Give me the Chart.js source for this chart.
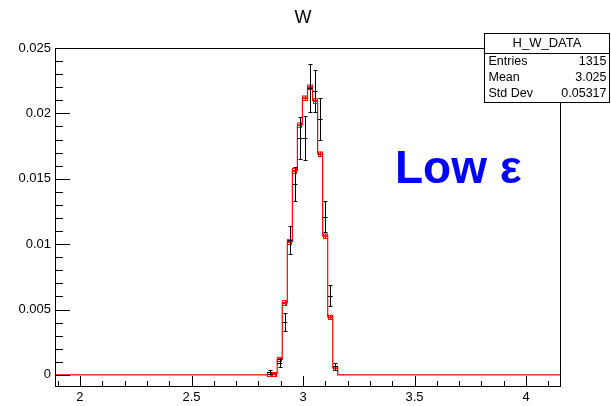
<!DOCTYPE html>
<html>
<head>
<meta charset="utf-8">
<script src="https://cdn.jsdelivr.net/npm/chart.js@4.4.1/dist/chart.umd.min.js"></script>
<style>
  html, body { margin: 0; padding: 0; background: #fff; }
</style>
</head>
<body>
<canvas id="histW" width="611" height="406"></canvas>
<script>
// histogram range and binning (100 bins)
const xMin = 1.888, xMax = 4.152;
const binWidth = 0.02264;

// only the non-empty bins around the peak
const binCenters = [2.8502, 2.8728, 2.8955, 2.9181, 2.9408, 2.9634, 2.9860, 3.0087, 3.0313, 3.0540, 3.0766, 3.0992, 3.1219, 3.1445];
const mcValues   = [0.00005, 0.0001, 0.00122, 0.00553, 0.01019, 0.01563, 0.01911, 0.02118, 0.02202, 0.02097, 0.0169, 0.01063, 0.00441, 0.00054];
const mcErrors   = [0.00004, 0.00005, 0.00012, 0.00015, 0.00015, 0.00015, 0.00015, 0.00015, 0.00015, 0.00015, 0.00015, 0.00015, 0.00015, 0.0001];
const dataValues = [0.0002, null, 0.00092, 0.00407, 0.01032, 0.0146, 0.0181, 0.01812, 0.02194, 0.02174, 0.01955, 0.0121, 0.00604, 0.00065];
const dataErrors = [0.00015, null, 0.0003, 0.0007, 0.0011, 0.0013, 0.0016, 0.0017, 0.0018, 0.0016, 0.0016, 0.0012, 0.0008, 0.00027];

const xMajorTicks = [2, 2.5, 3, 3.5, 4];
const xMinorTicks = [1.9, 2.1, 2.2, 2.3, 2.4, 2.6, 2.7, 2.8, 2.9, 3.1, 3.2, 3.3, 3.4, 3.6, 3.7, 3.8, 3.9, 4.1];
const yMajorTicks = [0, 0.005, 0.01, 0.015, 0.02, 0.025];
const yMinorTicks = [0.001, 0.002, 0.003, 0.004, 0.006, 0.007, 0.008, 0.009, 0.011, 0.012, 0.013, 0.014,
                     0.016, 0.017, 0.018, 0.019, 0.021, 0.022, 0.023, 0.024];

const histTitle = 'W';
const statsName = 'H_W_DATA';
const statsRows = [['Entries', '1315'], ['Mean', '3.025'], ['Std Dev', '0.05317']];
const overlayText = 'Low \u03B5';

// step outline of the MC histogram: each point is a bin's right edge
const mcStep = [{ x: xMin, y: 0 }, { x: binCenters[0] - binWidth / 2, y: 0 }];
binCenters.forEach((c, i) => mcStep.push({ x: c + binWidth / 2, y: mcValues[i] }));
mcStep.push({ x: xMax, y: 0 });

const dataPoints = binCenters
    .map((c, i) => ({ x: c, y: dataValues[i], err: dataErrors[i] }))
    .filter(p => p.y !== null);

const FONT = '"Liberation Sans", Arial, Helvetica, sans-serif';

const rootStyle = {
    id: 'rootStyle',
    afterDatasetsDraw(chart) {
        const ctx = chart.ctx;
        const xs = chart.scales.x, ys = chart.scales.y;
        ctx.save();
        // MC error boxes
        ctx.strokeStyle = '#ff0000';
        ctx.lineWidth = 1;
        binCenters.forEach((c, i) => {
            const x0 = Math.round(xs.getPixelForValue(c - binWidth / 2)) + 0.5;
            const x1 = Math.round(xs.getPixelForValue(c + binWidth / 2)) - 0.5;
            const xc = Math.round(xs.getPixelForValue(c)) + 0.5;
            const yc = Math.round(ys.getPixelForValue(mcValues[i])) + 0.5;
            const yt = Math.min(yc - 2, ys.getPixelForValue(mcValues[i] + mcErrors[i]));
            const yb = Math.max(yc + 2, ys.getPixelForValue(mcValues[i] - mcErrors[i]));
            ctx.strokeRect(x0, yt, x1 - x0, yb - yt);
            ctx.beginPath();
            ctx.moveTo(x0, yc); ctx.lineTo(x1, yc);
            ctx.moveTo(xc, yt); ctx.lineTo(xc, yb);
            ctx.stroke();
        });
        // data points with error bars
        ctx.strokeStyle = '#000';
        dataPoints.forEach(p => {
            const xc = Math.round(xs.getPixelForValue(p.x)) + 0.5;
            const x0 = xs.getPixelForValue(p.x - binWidth / 2);
            const x1 = xs.getPixelForValue(p.x + binWidth / 2);
            const yc = Math.round(ys.getPixelForValue(p.y)) + 0.5;
            const yt = Math.round(ys.getPixelForValue(p.y + p.err)) + 0.5;
            const yb = Math.round(ys.getPixelForValue(p.y - p.err)) + 0.5;
            ctx.beginPath();
            ctx.moveTo(x0, yc); ctx.lineTo(x1, yc);
            ctx.moveTo(xc, yt); ctx.lineTo(xc, yb);
            ctx.moveTo(xc - 2, yt); ctx.lineTo(xc + 2, yt);
            ctx.moveTo(xc - 2, yb); ctx.lineTo(xc + 2, yb);
            ctx.stroke();
        });
        ctx.restore();
    },
    afterDraw(chart) {
        const ctx = chart.ctx;
        const area = chart.chartArea;
        const xs = chart.scales.x, ys = chart.scales.y;
        ctx.save();
        ctx.strokeStyle = '#000';
        ctx.lineWidth = 1;
        // frame
        ctx.strokeRect(Math.round(area.left) + 0.5, Math.round(area.top) + 0.5,
            Math.round(area.right - area.left), Math.round(area.bottom - area.top));
        // inner ticks
        ctx.beginPath();
        const yTick = (v, len) => {
            const y = Math.round(ys.getPixelForValue(v)) + 0.5;
            ctx.moveTo(area.left, y); ctx.lineTo(area.left + len, y);
        };
        const xTick = (v, len) => {
            const x = Math.round(xs.getPixelForValue(v)) + 0.5;
            ctx.moveTo(x, area.bottom); ctx.lineTo(x, area.bottom - len);
        };
        yMajorTicks.forEach(v => yTick(v, 15));
        yMinorTicks.forEach(v => yTick(v, 8));
        xMajorTicks.forEach(v => xTick(v, 10));
        xMinorTicks.forEach(v => xTick(v, 5));
        ctx.stroke();

        // title
        ctx.fillStyle = '#000';
        ctx.font = '18px ' + FONT;
        ctx.textAlign = 'center';
        ctx.textBaseline = 'middle';
        ctx.fillText(histTitle, 303, 18);

        // stats box
        const bx = 484.5, by = 33.5, bw = 125, bh = 69;
        ctx.fillStyle = '#fff';
        ctx.fillRect(bx, by, bw, bh);
        ctx.strokeRect(bx, by, bw, bh);
        ctx.beginPath();
        ctx.moveTo(bx, by + 20); ctx.lineTo(bx + bw, by + 20);
        ctx.stroke();
        ctx.fillStyle = '#000';
        ctx.font = '13px ' + FONT;
        ctx.textAlign = 'center';
        ctx.fillText(statsName, bx + bw / 2, by + 10);
        ctx.font = '12.5px ' + FONT;
        statsRows.forEach((r, i) => {
            const y = by + 28 + i * 16;
            ctx.textAlign = 'left';
            ctx.fillText(r[0], bx + 4, y);
            ctx.textAlign = 'right';
            ctx.fillText(r[1], bx + bw - 3, y);
        });

        // label
        ctx.fillStyle = '#0000ff';
        ctx.font = 'bold 46px ' + FONT;
        ctx.textAlign = 'left';
        ctx.textBaseline = 'alphabetic';
        ctx.fillText(overlayText, 395, 183);
        ctx.restore();
    }
};

new Chart(document.getElementById('histW'), {
    type: 'line',
    data: {
        datasets: [
            {
                label: 'MC',
                data: mcStep,
                stepped: 'after',
                borderColor: '#ff0000',
                borderWidth: 1.2,
                pointRadius: 0,
                fill: false
            },
            {
                label: 'Data',
                type: 'scatter',
                data: dataPoints,
                pointRadius: 0,
                showLine: false
            }
        ]
    },
    options: {
        responsive: false,
        devicePixelRatio: 1,
        animation: false,
        layout: { padding: { left: 0, top: 48, right: 51, bottom: 0 } },
        plugins: { legend: { display: false }, tooltip: { enabled: false } },
        scales: {
            x: {
                type: 'linear',
                min: xMin,
                max: xMax,
                afterBuildTicks: s => { s.ticks = xMajorTicks.map(v => ({ value: v })); },
                afterFit: s => { s.height = 20; },
                grid: { display: false, drawTicks: false },
                border: { display: false },
                ticks: {
                    color: '#000',
                    font: { family: FONT, size: 13 },
                    padding: 4,
                    maxRotation: 0,
                    autoSkip: false,
                    callback: v => String(v)
                }
            },
            y: {
                type: 'linear',
                min: -0.00085,
                max: 0.025,
                afterBuildTicks: s => { s.ticks = yMajorTicks.map(v => ({ value: v })); },
                afterFit: s => { s.width = 55; },
                grid: { display: false, drawTicks: false },
                border: { display: false },
                ticks: {
                    color: '#000',
                    font: { family: FONT, size: 13 },
                    padding: 4,
                    autoSkip: false,
                    callback: v => String(v)
                }
            }
        }
    },
    plugins: [rootStyle]
});
</script>
</body>
</html>
